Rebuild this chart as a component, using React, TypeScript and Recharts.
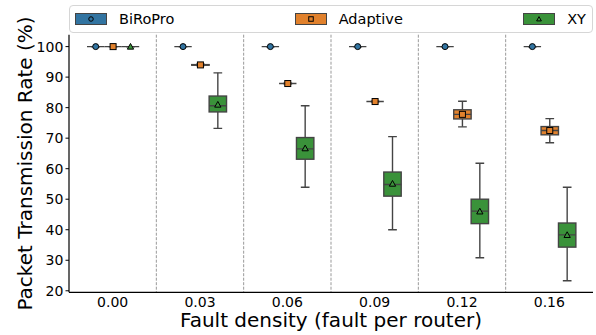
import React from 'react';
import { ComposedChart, Bar, XAxis, YAxis, ReferenceArea } from 'recharts';

const categories = ['0.00', '0.03', '0.06', '0.09', '0.12', '0.16'];
const separatorCategories = ['0.03', '0.06', '0.09', '0.12', '0.16'];
const yTicks = [20, 30, 40, 50, 60, 70, 80, 90, 100];
const yDomain = [19.5, 103.9];

const biroproMin = [100, 100, 100, 100, 100, 100];
const biroproQ1 = [100, 100, 100, 100, 100, 100];
const biroproMedian = [100, 100, 100, 100, 100, 100];
const biroproQ3 = [100, 100, 100, 100, 100, 100];
const biroproMax = [100, 100, 100, 100, 100, 100];
const biroproMean = [100, 100, 100, 100, 100, 100];

const adaptiveMin = [100, 93.8, 87.8, 81.9, 73.7, 68.5];
const adaptiveQ1 = [100, 93.9, 87.85, 81.95, 76.3, 71.1];
const adaptiveMedian = [100, 94.0, 87.9, 82.0, 77.8, 72.5];
const adaptiveQ3 = [100, 94.1, 87.95, 82.05, 79.3, 73.8];
const adaptiveMax = [100, 94.2, 88.0, 82.1, 82.1, 76.4];
const adaptiveMean = [100, 94.0, 87.9, 82.0, 77.8, 72.5];

const xyMin = [100, 73.2, 53.9, 40.0, 30.8, 23.3];
const xyQ1 = [100, 78.6, 63.1, 51.0, 42.0, 34.3];
const xyMedian = [100, 80.6, 66.5, 54.8, 46.1, 38.3];
const xyQ3 = [100, 83.8, 70.2, 58.9, 50.0, 42.2];
const xyMax = [100, 91.4, 80.6, 70.5, 61.8, 53.9];
const xyMean = [100, 81.0, 66.7, 55.1, 46.0, 38.3];

const BLUE = '#3274a1';
const ORANGE = '#e1812c';
const GREEN = '#3a923a';
const LINE = '#444444';
const FONT = '"DejaVu Sans", sans-serif';

type Marker = 'circle' | 'square' | 'triangle';

const series = [
  { key: 'biropro', name: 'BiRoPro', color: BLUE, marker: 'circle' as Marker, min: biroproMin, q1: biroproQ1, med: biroproMedian, q3: biroproQ3, max: biroproMax, mean: biroproMean },
  { key: 'adaptive', name: 'Adaptive', color: ORANGE, marker: 'square' as Marker, min: adaptiveMin, q1: adaptiveQ1, med: adaptiveMedian, q3: adaptiveQ3, max: adaptiveMax, mean: adaptiveMean },
  { key: 'xy', name: 'XY', color: GREEN, marker: 'triangle' as Marker, min: xyMin, q1: xyQ1, med: xyMedian, q3: xyQ3, max: xyMax, mean: xyMean },
];

const data = categories.map((cat, i) => {
  const row: any = { cat };
  series.forEach((s) => {
    row[s.key] = { min: s.min[i], q1: s.q1[i], med: s.med[i], q3: s.q3[i], max: s.max[i], mean: s.mean[i] };
  });
  return row;
});

function MarkerGlyph({ type, cx, cy, size, fill }: { type: Marker; cx: number; cy: number; size: number; fill: string }) {
  const h = size / 2;
  if (type === 'circle') return <circle cx={cx} cy={cy} r={h} fill={fill} stroke="#000" strokeWidth={1} />;
  if (type === 'square') return <rect x={cx - h} y={cy - h} width={size} height={size} fill={fill} stroke="#000" strokeWidth={1} />;
  return (
    <polygon
      points={`${cx},${cy - h * 1.05} ${cx - h * 1.05},${cy + h * 0.85} ${cx + h * 1.05},${cy + h * 0.85}`}
      fill={fill}
      stroke="#000"
      strokeWidth={1}
    />
  );
}

function makeBoxShape(s: (typeof series)[number]) {
  return (props: any) => {
    const { x, y, width, height, payload } = props;
    const st = payload[s.key];
    const top = Math.min(y, y + height);
    const h = Math.abs(height);
    const span = st.max - st.min;
    const py = (v: number) => (span === 0 ? top : top + ((st.max - v) / span) * h);
    const cx = x + width / 2;
    const capHalf = width / 4;
    const yMax = py(st.max);
    const yMin = py(st.min);
    const yQ1 = py(st.q1);
    const yQ3 = py(st.q3);
    const yMed = py(st.med);
    const yMean = py(st.mean);
    return (
      <g>
        <line x1={cx} x2={cx} y1={yMax} y2={yQ3} stroke={LINE} strokeWidth={1.4} />
        <line x1={cx} x2={cx} y1={yQ1} y2={yMin} stroke={LINE} strokeWidth={1.4} />
        <line x1={cx - capHalf} x2={cx + capHalf} y1={yMax} y2={yMax} stroke={LINE} strokeWidth={1.4} />
        <line x1={cx - capHalf} x2={cx + capHalf} y1={yMin} y2={yMin} stroke={LINE} strokeWidth={1.4} />
        {yQ1 - yQ3 > 0.5 && (
          <rect x={x} y={yQ3} width={width} height={yQ1 - yQ3} fill={s.color} stroke={LINE} strokeWidth={1.4} />
        )}
        <line x1={x} x2={x + width} y1={yMed} y2={yMed} stroke={LINE} strokeWidth={1.4} />
        <MarkerGlyph type={s.marker} cx={cx} cy={yMean} size={6} fill={s.color} />
      </g>
    );
  };
}

const separatorShape = (props: any) => {
  const { x, y, height } = props;
  return (
    <line x1={x} x2={x} y1={y} y2={y + height} stroke="#999" strokeWidth={1} strokeDasharray="3 1.5" />
  );
};

function LegendBox() {
  return (
    <div
      style={{
        position: 'absolute',
        left: 69,
        top: 5,
        width: 524,
        height: 28,
        boxSizing: 'border-box',
        border: '1px solid #d6d6d6',
        borderRadius: 4,
        background: '#fff',
        display: 'flex',
        justifyContent: 'space-between',
        alignItems: 'center',
        padding: '0 6px 0 5px',
        fontFamily: FONT,
        fontSize: 14.5,
        color: '#000',
      }}
    >
      {series.map((s) => (
        <div key={s.key} style={{ display: 'flex', alignItems: 'center' }}>
          <svg width={32} height={12} style={{ display: 'block' }}>
            <rect x={0.5} y={0.5} width={31} height={11} fill={s.color} stroke={LINE} strokeWidth={1} />
            <MarkerGlyph type={s.marker} cx={16} cy={6} size={4.5} fill={s.color} />
          </svg>
          <span style={{ marginLeft: 12, lineHeight: '16px' }}>{s.name}</span>
        </div>
      ))}
    </div>
  );
}

export default function App() {
  return (
    <div style={{ position: 'absolute', left: 0, top: 0, width: 596, height: 335, background: '#fff' }}>
      <ComposedChart
        width={596}
        height={335}
        data={data}
        margin={{ top: 34.7, right: 3, bottom: 0, left: 9 }}
        barGap={0}
        style={{ fontFamily: FONT }}
      >
        <XAxis
          dataKey="cat"
          type="category"
          height={42.7}
          tickLine={false}
          tickSize={3}
          tickMargin={2.2}
          axisLine={{ stroke: '#000', strokeWidth: 1.2 }}
          tick={{ fontSize: 14, fill: '#000', fontFamily: FONT }}
          interval={0}
          label={(p: any) => {
            const vb = p.viewBox;
            return (
              <text x={vb.x + vb.width / 2} y={vb.y + 34.5} textAnchor="middle" fontSize={20} fill="#000" fontFamily={FONT}>
                Fault density (fault per router)
              </text>
            );
          }}
        />
        <XAxis
          xAxisId="top"
          dataKey="cat"
          type="category"
          orientation="top"
          height={0}
          tick={false}
          tickLine={false}
          axisLine={{ stroke: '#000', strokeWidth: 1.2 }}
        />
        <YAxis
          type="number"
          domain={yDomain}
          allowDataOverflow
          ticks={yTicks}
          interval={0}
          width={60}
          tickSize={3.5}
          tickMargin={2.2}
          tickLine={{ stroke: '#000' }}
          axisLine={{ stroke: '#000', strokeWidth: 1.2 }}
          tick={{ fontSize: 14, fill: '#000', fontFamily: FONT }}
          label={(p: any) => {
            const vb = p.viewBox;
            const tx = vb.x + 23;
            const ty = vb.y + vb.height / 2;
            return (
              <text x={tx} y={ty} transform={`rotate(-90, ${tx}, ${ty})`} textAnchor="middle" fontSize={20} fill="#000" fontFamily={FONT}>
                Packet Transmission Rate (%)
              </text>
            );
          }}
        />
        <YAxis
          yAxisId="right"
          orientation="right"
          type="number"
          domain={yDomain}
          allowDataOverflow
          width={0}
          tick={false}
          tickLine={false}
          axisLine={{ stroke: '#000', strokeWidth: 1.2 }}
        />
        {separatorCategories.map((c) => (
          <ReferenceArea key={c} x1={c} x2={c} ifOverflow="visible" shape={separatorShape} />
        ))}
        {series.map((s) => (
          <Bar
            key={s.key}
            dataKey={(d: any) => [d[s.key].min, d[s.key].max]}
            name={s.name}
            barSize={17.4}
            fill={s.color}
            isAnimationActive={false}
            shape={makeBoxShape(s)}
          />
        ))}
      </ComposedChart>
      <LegendBox />
    </div>
  );
}
